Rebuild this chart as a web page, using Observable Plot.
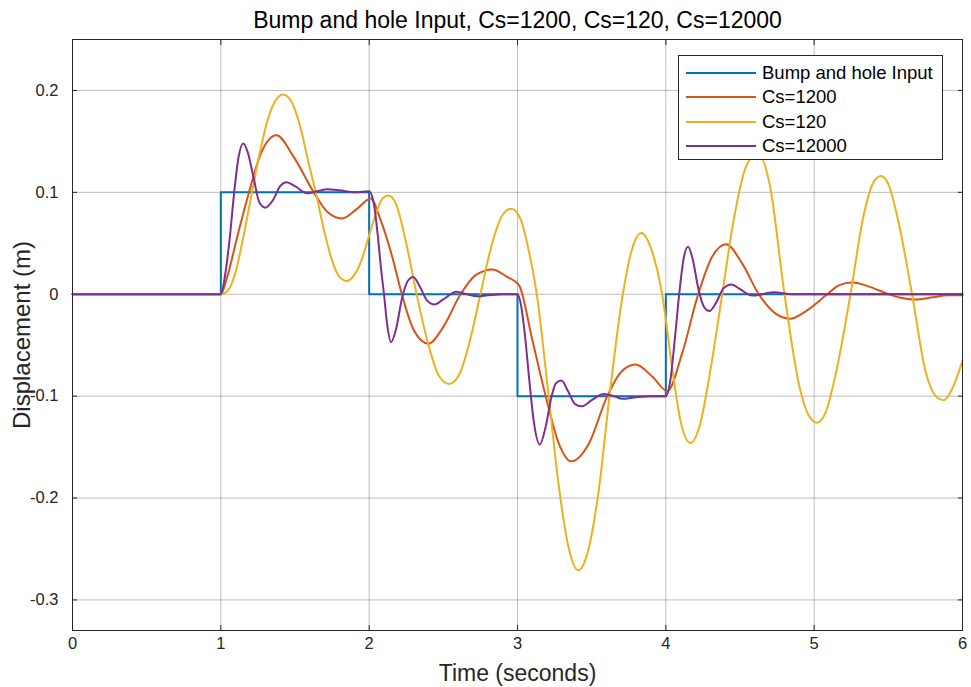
<!DOCTYPE html>
<html>
<head>
<meta charset="utf-8">
<script src="https://cdn.jsdelivr.net/npm/d3@7"></script>
<script src="https://cdn.jsdelivr.net/npm/@observablehq/plot@0.6"></script>
<style>
  body { margin: 0; background: #fff; font-family: "Liberation Sans", Arial, sans-serif; }
  #wrap { position: relative; width: 971px; height: 687px; }
  #legend { position: absolute; left: 678px; top: 55px; width: 263px; height: 103px;
            border: 1px solid #262626; background: #fff; box-sizing: content-box; }
  .row { position: absolute; left: 0; height: 24px; display: flex; align-items: center; }
  .sw { width: 70px; height: 0; border-top: 2px solid; margin-left: 7px; margin-right: 6px; }
  .lbl { font-size: 18.5px; color: #000; white-space: nowrap; }
</style>
</head>
<body>
<div id="wrap"></div>
<script>
// ---------- data ----------
const titleText = "Bump and hole Input, Cs=1200, Cs=120, Cs=12000";
const xLabel = "Time (seconds)";
const yLabel = "Displacement (m)";
const xTicks = [0, 1, 2, 3, 4, 5, 6];
const yTicks = [-0.3, -0.2, -0.1, 0, 0.1, 0.2];
const xDomain = [0, 6];
const yDomain = [-0.33, 0.25];

const seriesNames = ["Bump and hole Input", "Cs=1200", "Cs=120", "Cs=12000"];
const seriesColors = ["#0072BD", "#D95319", "#EDB120", "#7E2F8E"];

// road input (step)
const inputPts = [[0, 0], [1, 0.1], [2, 0], [3, -0.1], [4, 0], [6, 0]];

// Cs = 1200
const cs1200Pts = [
  [0, 0], [1, 0], [1.043, 0.017], [1.11, 0.056], [1.19, 0.1], [1.267, 0.137], [1.375, 0.156],
  [1.49, 0.135], [1.627, 0.1], [1.717, 0.081], [1.818, 0.0744], [1.92, 0.084], [2.01, 0.094],
  [2.077, 0.073], [2.155, 0.037], [2.22, 0], [2.30, -0.035], [2.40, -0.0485], [2.50, -0.032],
  [2.616, 0], [2.72, 0.019], [2.83, 0.0243], [2.93, 0.017], [3.01, 0.009], [3.10, -0.045],
  [3.19, -0.1], [3.28, -0.147], [3.364, -0.164], [3.48, -0.147], [3.605, -0.1], [3.70, -0.076],
  [3.796, -0.069], [3.91, -0.081], [4.01, -0.095], [4.11, -0.058], [4.218, 0], [4.313, 0.037],
  [4.407, 0.049], [4.515, 0.030], [4.627, 0], [4.74, -0.019], [4.84, -0.024], [4.95, -0.016],
  [5.088, 0], [5.17, 0.009], [5.256, 0.0115], [5.38, 0.007], [5.503, 0], [5.6, -0.004],
  [5.683, -0.0052], [5.8, -0.003], [5.9, -0.001], [6, -0.001]
];

// Cs = 120
const cs120Pts = [
  [0, 0], [1, 0], [1.05, 0.004], [1.1, 0.022], [1.15, 0.055], [1.21, 0.1], [1.26, 0.137],
  [1.31, 0.168], [1.36, 0.188], [1.42, 0.196], [1.48, 0.188], [1.54, 0.162], [1.59, 0.13],
  [1.64, 0.1], [1.7, 0.06], [1.75, 0.033], [1.8, 0.017], [1.85, 0.013], [1.9, 0.019],
  [1.95, 0.034], [2.0, 0.058], [2.05, 0.081], [2.09, 0.094], [2.13, 0.097], [2.18, 0.089],
  [2.25, 0.05], [2.32, 0], [2.4, -0.05], [2.47, -0.08], [2.54, -0.088], [2.61, -0.078],
  [2.68, -0.045], [2.75, 0], [2.82, 0.045], [2.9, 0.078], [2.96, 0.084], [3.02, 0.074],
  [3.08, 0.04], [3.13, 0], [3.21, -0.1], [3.28, -0.19], [3.35, -0.252], [3.41, -0.271],
  [3.47, -0.255], [3.55, -0.19], [3.62, -0.1], [3.71, 0], [3.78, 0.048], [3.836, 0.06],
  [3.9, 0.045], [3.975, 0], [4.05, -0.08], [4.1, -0.125], [4.166, -0.146], [4.23, -0.128],
  [4.3, -0.075], [4.38, 0], [4.46, 0.075], [4.54, 0.125], [4.62, 0.138], [4.7, 0.108],
  [4.8, 0], [4.9, -0.09], [4.96, -0.118], [5.02, -0.126], [5.08, -0.115], [5.15, -0.075],
  [5.245, 0], [5.33, 0.075], [5.4, 0.11], [5.45, 0.116], [5.5, 0.108], [5.57, 0.07],
  [5.66, 0], [5.75, -0.075], [5.82, -0.1], [5.874, -0.104], [5.93, -0.093], [6, -0.065]
];

// Cs = 12000
const cs12000Pts = [
  [0, 0], [1, 0], [1.03, 0.02], [1.06, 0.055], [1.09, 0.1], [1.12, 0.135], [1.151, 0.148],
  [1.18, 0.14], [1.22, 0.115], [1.26, 0.09], [1.30, 0.085], [1.35, 0.092], [1.40, 0.106],
  [1.443, 0.110], [1.5, 0.106], [1.582, 0.099], [1.65, 0.101], [1.717, 0.103], [1.8, 0.102],
  [1.9, 0.1], [2.0, 0.101], [2.03, 0.09], [2.06, 0.055], [2.08, 0.025], [2.10, 0],
  [2.12, -0.028], [2.148, -0.047], [2.18, -0.035], [2.22, -0.005], [2.26, 0.013],
  [2.297, 0.017], [2.34, 0.008], [2.39, -0.006], [2.44, -0.01], [2.5, -0.005], [2.587, 0.0025],
  [2.66, 0], [2.728, -0.002], [2.8, -0.001], [2.9, 0], [3.0, 0], [3.02, -0.008], [3.05, -0.04],
  [3.08, -0.085], [3.11, -0.125], [3.15, -0.1475], [3.19, -0.13], [3.23, -0.1], [3.26, -0.087],
  [3.297, -0.0846], [3.34, -0.095], [3.39, -0.108], [3.436, -0.110], [3.5, -0.104],
  [3.582, -0.098], [3.65, -0.1], [3.706, -0.1026], [3.8, -0.101], [3.9, -0.1], [4.0, -0.1],
  [4.03, -0.085], [4.06, -0.045], [4.09, 0], [4.12, 0.035], [4.15, 0.0465], [4.18, 0.035],
  [4.22, 0.005], [4.26, -0.013], [4.294, -0.0164], [4.34, -0.008], [4.39, 0.006],
  [4.443, 0.0095], [4.5, 0.005], [4.582, -0.0013], [4.65, 0], [4.728, 0.002], [4.85, 0], [6, 0]
];

// ---------- chart ----------
const toRows = pts => pts.map(([t, v]) => ({t, v}));
const fmt = d => String(d);
const tickStyle = {stroke: "#262626"};

const chart = Plot.plot({
  width: 971,
  height: 687,
  marginLeft: 72,
  marginRight: 9,
  marginTop: 39,
  marginBottom: 57,
  style: {fontFamily: "'Liberation Sans', Arial, sans-serif", fontSize: "16px", color: "#262626", background: "#fff"},
  x: {domain: xDomain, label: null},
  y: {domain: yDomain, label: null},
  marks: [
    Plot.gridX(xTicks, {stroke: "#262626", strokeOpacity: 0.3}),
    Plot.gridY(yTicks, {stroke: "#262626", strokeOpacity: 0.3}),
    Plot.axisX(xTicks, {anchor: "bottom", tickSize: 0, tickPadding: 7, tickFormat: fmt, label: null, fontSize: 16.5}),
    Plot.axisX(xTicks, {anchor: "bottom", tickSize: -5, tickFormat: () => "", label: null, ...tickStyle}),
    Plot.axisX(xTicks, {anchor: "top", tickSize: -5, tickFormat: () => "", label: null, ...tickStyle}),
    Plot.axisY(yTicks, {anchor: "left", tickSize: 0, tickPadding: 14, tickFormat: fmt, label: null, fontSize: 16.5}),
    Plot.axisY(yTicks, {anchor: "left", tickSize: -5, tickFormat: () => "", label: null, ...tickStyle}),
    Plot.axisY(yTicks, {anchor: "right", tickSize: -5, tickFormat: () => "", label: null, ...tickStyle}),
    Plot.line(toRows(inputPts), {x: "t", y: "v", stroke: seriesColors[0], strokeWidth: 2, curve: "step-after"}),
    Plot.line(toRows(cs1200Pts), {x: "t", y: "v", stroke: seriesColors[1], strokeWidth: 2, curve: "monotone-x"}),
    Plot.line(toRows(cs120Pts), {x: "t", y: "v", stroke: seriesColors[2], strokeWidth: 2, curve: "monotone-x"}),
    Plot.line(toRows(cs12000Pts), {x: "t", y: "v", stroke: seriesColors[3], strokeWidth: 2, curve: "monotone-x"}),
    Plot.frame({stroke: "#262626"}),
    Plot.text([titleText], {frameAnchor: "top", dy: -19, lineAnchor: "middle", fontSize: 23, fill: "#000"}),
    Plot.text([xLabel], {frameAnchor: "bottom", dy: 43, lineAnchor: "middle", fontSize: 23, fill: "#262626"}),
    Plot.text([yLabel], {frameAnchor: "left", dx: -50, rotate: -90, textAnchor: "middle", lineAnchor: "middle", fontSize: 24, fill: "#262626"})
  ]
});

const wrap = document.getElementById("wrap");
wrap.appendChild(chart);

// legend
const legend = document.createElement("div");
legend.id = "legend";
seriesNames.forEach((name, i) => {
  const row = document.createElement("div");
  row.className = "row";
  row.style.top = (4.7 + i * 24.4) + "px";
  const sw = document.createElement("span");
  sw.className = "sw";
  sw.style.borderTopColor = seriesColors[i];
  const lbl = document.createElement("span");
  lbl.className = "lbl";
  lbl.textContent = name;
  row.appendChild(sw);
  row.appendChild(lbl);
  legend.appendChild(row);
});
wrap.appendChild(legend);
</script>
</body>
</html>
